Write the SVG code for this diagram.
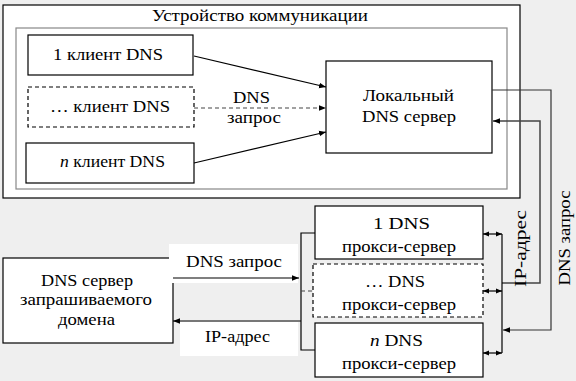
<svg xmlns="http://www.w3.org/2000/svg" width="576" height="381" viewBox="0 0 576 381">
<defs>
<marker id="ah" viewBox="0 0 10 10" refX="10" refY="5" markerWidth="7" markerHeight="7" orient="auto-start-reverse" markerUnits="userSpaceOnUse">
<path d="M0,1 L10,5 L0,9 Z" fill="#000"/>
</marker>
<marker id="as" viewBox="0 0 10 10" refX="10" refY="5" markerWidth="6" markerHeight="6" orient="auto-start-reverse" markerUnits="userSpaceOnUse">
<path d="M0,1 L10,5 L0,9 Z" fill="#000"/>
</marker>
</defs>
<rect width="576" height="381" fill="#efefef"/>
<g id="device">
<rect x="3" y="5" width="517" height="193" fill="#fff" stroke="#000" stroke-width="1.2"/>
<rect x="16" y="28" width="491" height="161" fill="#fff" stroke="#888" stroke-width="1.2"/>
<text x="260" y="21" font-family="'Liberation Serif', 'Times New Roman', serif" font-size="17" text-anchor="middle" textLength="216" lengthAdjust="spacingAndGlyphs">Устройство коммуникации</text>
</g>
<g id="client1">
<rect x="28" y="35" width="165" height="40" fill="#fff" stroke="#000" stroke-width="1.2"/>
<text x="108" y="60" font-family="'Liberation Serif', 'Times New Roman', serif" font-size="17" text-anchor="middle" textLength="110" lengthAdjust="spacingAndGlyphs">1 клиент DNS</text>
</g>
<g id="clientdots">
<rect x="28" y="87" width="166" height="40" fill="#fff" stroke="#000" stroke-width="1.2" stroke-dasharray="4 3"/>
<text x="110" y="112" font-family="'Liberation Serif', 'Times New Roman', serif" font-size="17" text-anchor="middle" textLength="120" lengthAdjust="spacingAndGlyphs">… клиент DNS</text>
</g>
<g id="clientn">
<rect x="26" y="143" width="168" height="40" fill="#fff" stroke="#000" stroke-width="1.2"/>
<text x="112.5" y="167" font-family="'Liberation Serif', 'Times New Roman', serif" font-size="17" text-anchor="middle" textLength="105" lengthAdjust="spacingAndGlyphs"><tspan font-style="italic">n</tspan> клиент DNS</text>
</g>
<g id="local">
<rect x="326" y="61" width="166" height="92" fill="#fff" stroke="#000" stroke-width="1.2"/>
<text x="408.5" y="101" font-family="'Liberation Serif', 'Times New Roman', serif" font-size="17" text-anchor="middle" textLength="91" lengthAdjust="spacingAndGlyphs">Локальный</text>
<text x="409" y="122" font-family="'Liberation Serif', 'Times New Roman', serif" font-size="17" text-anchor="middle" textLength="94" lengthAdjust="spacingAndGlyphs">DNS сервер</text>
</g>
<g id="proxy1">
<rect x="315" y="206" width="168" height="53" fill="#fff" stroke="#000" stroke-width="1.2"/>
<text x="401.5" y="229" font-family="'Liberation Serif', 'Times New Roman', serif" font-size="17" text-anchor="middle" textLength="57" lengthAdjust="spacingAndGlyphs">1 DNS</text>
<text x="399" y="252" font-family="'Liberation Serif', 'Times New Roman', serif" font-size="17" text-anchor="middle" textLength="114" lengthAdjust="spacingAndGlyphs">прокси-сервер</text>
</g>
<g id="proxydots">
<rect x="313" y="264" width="170" height="53" fill="#fff" stroke="#000" stroke-width="1.2" stroke-dasharray="4 3"/>
<text x="395" y="287" font-family="'Liberation Serif', 'Times New Roman', serif" font-size="17" text-anchor="middle" textLength="60" lengthAdjust="spacingAndGlyphs">… DNS</text>
<text x="399" y="310" font-family="'Liberation Serif', 'Times New Roman', serif" font-size="17" text-anchor="middle" textLength="114" lengthAdjust="spacingAndGlyphs">прокси-сервер</text>
</g>
<g id="proxyn">
<rect x="315" y="323" width="168" height="54" fill="#fff" stroke="#000" stroke-width="1.2"/>
<text x="396.5" y="346" font-family="'Liberation Serif', 'Times New Roman', serif" font-size="17" text-anchor="middle" textLength="53" lengthAdjust="spacingAndGlyphs"><tspan font-style="italic">n</tspan> DNS</text>
<text x="399" y="369" font-family="'Liberation Serif', 'Times New Roman', serif" font-size="17" text-anchor="middle" textLength="114" lengthAdjust="spacingAndGlyphs">прокси-сервер</text>
</g>
<g id="domain">
<rect x="3" y="258" width="170" height="85" fill="#fff" stroke="#000" stroke-width="1.2"/>
<text x="87" y="286" font-family="'Liberation Serif', 'Times New Roman', serif" font-size="17" text-anchor="middle" textLength="92" lengthAdjust="spacingAndGlyphs">DNS сервер</text>
<text x="86" y="305" font-family="'Liberation Serif', 'Times New Roman', serif" font-size="17" text-anchor="middle" textLength="132" lengthAdjust="spacingAndGlyphs">запрашиваемого</text>
<text x="86.5" y="325" font-family="'Liberation Serif', 'Times New Roman', serif" font-size="17" text-anchor="middle" textLength="57" lengthAdjust="spacingAndGlyphs">домена</text>
</g>
<g id="connectors">
<line x1="194" y1="56" x2="326" y2="87" stroke="#000" stroke-width="1.2" marker-end="url(#ah)"/>
<line x1="194" y1="108" x2="326" y2="108" stroke="#444" stroke-width="1.2" stroke-dasharray="4 3" marker-end="url(#ah)"/>
<line x1="194" y1="163" x2="326" y2="132" stroke="#000" stroke-width="1.2" marker-end="url(#ah)"/>
<text x="251.5" y="103" font-family="'Liberation Serif', 'Times New Roman', serif" font-size="17" text-anchor="middle" textLength="37" lengthAdjust="spacingAndGlyphs">DNS</text>
<text x="254" y="123" font-family="'Liberation Serif', 'Times New Roman', serif" font-size="17" text-anchor="middle" textLength="54" lengthAdjust="spacingAndGlyphs">запрос</text>
<polyline points="492,90 551,90 551,330 503,330" fill="none" stroke="#333" stroke-width="1.2" marker-end="url(#ah)"/>
<polyline points="502,283 540,283 540,121 493,121" fill="none" stroke="#444" stroke-width="1.5" marker-end="url(#ah)"/>
<line x1="502" y1="234" x2="502" y2="353" stroke="#000" stroke-width="1.2"/>
<line x1="502" y1="234" x2="483" y2="234" stroke="#000" stroke-width="1.2" marker-start="url(#as)" marker-end="url(#as)"/>
<line x1="502" y1="291" x2="483" y2="291" stroke="#000" stroke-width="1.2" marker-start="url(#as)" marker-end="url(#as)"/>
<line x1="502" y1="353" x2="483" y2="353" stroke="#000" stroke-width="1.2" marker-start="url(#as)" marker-end="url(#as)"/>
<text transform="translate(526,248.5) rotate(-90)" font-family="'Liberation Serif', 'Times New Roman', serif" font-size="17" text-anchor="middle" textLength="77" lengthAdjust="spacingAndGlyphs">IP-адрес</text>
<text transform="translate(570,238) rotate(-90)" font-family="'Liberation Serif', 'Times New Roman', serif" font-size="17" text-anchor="middle" textLength="95" lengthAdjust="spacingAndGlyphs">DNS запрос</text>
<rect x="169" y="244" width="129" height="39" fill="#fff"/>
<rect x="180" y="322" width="118" height="34" fill="#fff"/>
<text x="234" y="267" font-family="'Liberation Serif', 'Times New Roman', serif" font-size="17" text-anchor="middle" textLength="96" lengthAdjust="spacingAndGlyphs">DNS запрос</text>
<text x="237.5" y="342" font-family="'Liberation Serif', 'Times New Roman', serif" font-size="17" text-anchor="middle" textLength="65" lengthAdjust="spacingAndGlyphs">IP-адрес</text>
<line x1="173" y1="278" x2="299" y2="278" stroke="#000" stroke-width="1.2" marker-end="url(#ah)"/>
<line x1="301" y1="321" x2="173" y2="321" stroke="#000" stroke-width="1.2" marker-end="url(#ah)"/>
<polyline points="315,233 301,233 301,350 315,350" fill="none" stroke="#000" stroke-width="1.2"/>
<line x1="301" y1="291" x2="313" y2="291" stroke="#444" stroke-width="1.2" stroke-dasharray="4 3"/>
</g>
</svg>
